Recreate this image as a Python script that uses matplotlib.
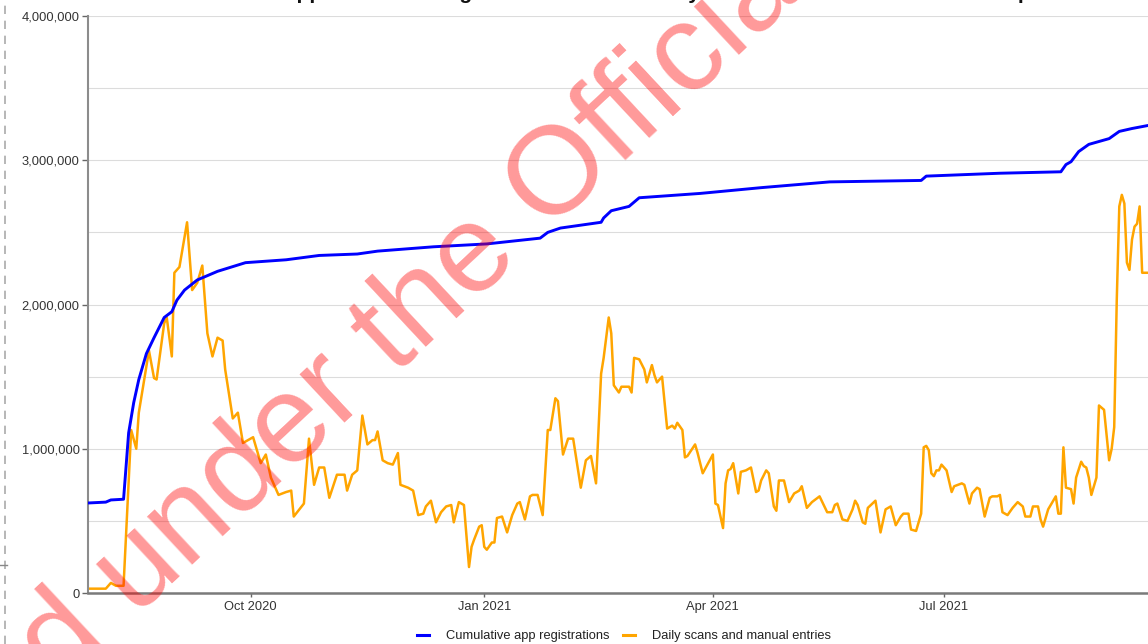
import numpy as np
import matplotlib
matplotlib.use("Agg")
import matplotlib.pyplot as plt
import matplotlib.dates as mdates
from matplotlib.lines import Line2D

plt.rcParams['font.family'] = ['Liberation Sans', 'DejaVu Sans']

# ---------------- data ----------------
start_date = np.datetime64('2020-07-29')

# Cumulative app registrations (days since start, value in millions)
reg_days = [0, 7, 9, 14, 16, 18, 20, 23, 26, 30, 33, 35, 38, 43, 51, 62, 78, 91, 106,
            114, 136, 157, 178, 181, 186, 202, 203, 206, 213, 217, 241, 265, 292, 328,
            330, 359, 383, 385, 387, 390, 394, 398, 402, 406, 411, 417]
reg_vals = [0.624, 0.63, 0.645, 0.65, 1.11, 1.32, 1.48, 1.66, 1.77, 1.91, 1.95, 2.03,
            2.10, 2.17, 2.23, 2.29, 2.31, 2.34, 2.35, 2.37, 2.40, 2.42, 2.46, 2.50,
            2.53, 2.57, 2.60, 2.65, 2.68, 2.74, 2.77, 2.81, 2.85, 2.86, 2.89, 2.91,
            2.92, 2.97, 2.99, 3.06, 3.11, 3.13, 3.15, 3.20, 3.22, 3.24]

# Daily scans and manual entries (days since start, value in millions)
scan_days = [0, 7, 9, 11, 14, 17, 19, 20, 24, 26, 27, 30, 31, 33, 34, 36, 39, 41, 43,
             45, 47, 49, 51, 53, 54, 57, 59, 61, 65, 68, 70, 72, 75, 78, 80, 81, 85,
             87, 89, 91, 93, 95, 98, 101, 102, 104, 106, 108, 110, 112, 113, 114, 116,
             118, 120, 122, 123, 126, 128, 130, 132, 133, 135, 137, 139, 141, 143, 144,
             146, 148, 150, 151, 152, 154, 155, 156, 157, 159, 160, 161, 163, 165, 167,
             169, 170, 172, 174, 175, 177, 179, 181, 182, 184, 185, 187, 189, 191, 194,
             196, 198, 200, 202, 203, 205, 206, 207, 209, 210, 213, 214, 215, 217, 219,
             220, 222, 223, 224, 226, 228, 230, 231, 232, 234, 235, 236, 239, 240, 242,
             246, 247, 248, 250, 251, 252, 253, 254, 256, 257, 259, 261, 263, 264, 265,
             267, 268, 270, 271, 272, 274, 276, 278, 280, 281, 283, 285, 288, 291, 293,
             294, 295, 297, 299, 301, 302, 303, 305, 306, 307, 310, 312, 314, 316, 318,
             320, 321, 323, 324, 326, 328, 329, 330, 331, 332, 333, 334, 335, 336, 338,
             340, 341, 344, 345, 347, 348, 350, 351, 353, 355, 356, 358, 359, 360, 362,
             364, 366, 368, 369, 371, 372, 374, 375, 376, 378, 380, 381, 382, 383, 384,
             385, 387, 388, 389, 391, 392, 393, 394, 395, 397, 398, 400, 402, 403, 404,
             405, 406, 407, 408, 409, 410, 411, 412, 413, 414, 415, 417]
scan_vals = [0.03, 0.03, 0.07, 0.05, 0.05, 1.13, 1.00, 1.25, 1.68, 1.49, 1.48, 1.87,
             1.91, 1.64, 2.22, 2.26, 2.57, 2.10, 2.15, 2.27, 1.80, 1.64, 1.77, 1.75,
             1.55, 1.21, 1.25, 1.04, 1.08, 0.90, 0.96, 0.80, 0.68, 0.70, 0.71, 0.53,
             0.62, 1.07, 0.75, 0.87, 0.87, 0.66, 0.82, 0.82, 0.71, 0.82, 0.85, 1.23,
             1.03, 1.06, 1.06, 1.12, 0.92, 0.90, 0.89, 0.97, 0.75, 0.73, 0.71, 0.54,
             0.55, 0.60, 0.64, 0.49, 0.56, 0.60, 0.61, 0.49, 0.63, 0.61, 0.18, 0.32,
             0.37, 0.46, 0.47, 0.32, 0.30, 0.35, 0.35, 0.52, 0.53, 0.42, 0.54, 0.62,
             0.63, 0.51, 0.67, 0.68, 0.68, 0.54, 1.13, 1.13, 1.35, 1.33, 0.96, 1.07,
             1.07, 0.73, 0.92, 0.95, 0.76, 1.52, 1.63, 1.91, 1.80, 1.44, 1.39, 1.43,
             1.43, 1.39, 1.63, 1.62, 1.55, 1.46, 1.58, 1.51, 1.46, 1.50, 1.14, 1.16,
             1.14, 1.18, 1.13, 0.94, 0.95, 1.03, 0.97, 0.83, 0.96, 0.62, 0.61, 0.45,
             0.76, 0.85, 0.86, 0.90, 0.69, 0.84, 0.85, 0.87, 0.70, 0.71, 0.78, 0.85,
             0.83, 0.60, 0.57, 0.78, 0.78, 0.63, 0.69, 0.71, 0.74, 0.59, 0.63, 0.67,
             0.56, 0.56, 0.61, 0.62, 0.51, 0.50, 0.58, 0.64, 0.61, 0.49, 0.48, 0.59,
             0.64, 0.42, 0.58, 0.60, 0.47, 0.53, 0.55, 0.55, 0.44, 0.43, 0.55, 1.01,
             1.02, 0.99, 0.83, 0.81, 0.85, 0.85, 0.89, 0.85, 0.70, 0.74, 0.76, 0.75,
             0.62, 0.69, 0.73, 0.72, 0.53, 0.66, 0.67, 0.67, 0.68, 0.56, 0.54, 0.59,
             0.63, 0.60, 0.53, 0.53, 0.60, 0.60, 0.51, 0.46, 0.58, 0.64, 0.67, 0.55,
             0.55, 1.01, 0.73, 0.72, 0.62, 0.80, 0.91, 0.88, 0.87, 0.80, 0.68, 0.80,
             1.30, 1.27, 0.92, 1.00, 1.15, 2.03, 2.68, 2.76, 2.70, 2.29, 2.24, 2.45,
             2.54, 2.56, 2.68, 2.22, 2.22]

series_labels = ["Cumulative app registrations", "Daily scans and manual entries"]
series_colors = ["#0000FF", "#FFA500"]
tick_dates = ['2020-10-01', '2021-01-01', '2021-04-01', '2021-07-01']
y_ticks = [0, 1000000, 2000000, 3000000, 4000000]
title = "NZ COVID Tracer app users & all registrations and the daily scans and manual entries to Sep 2021"
watermark = "Released under the Official Information Act"

# ---------------- figure ----------------
W, H = 1148, 644
fig = plt.figure(figsize=(W / 100, H / 100), dpi=100)
ax = fig.add_axes([88 / W, 1 - 593 / H, 1 - 88 / W, (593 - 16) / H])

reg_dates = start_date + np.array(reg_days).astype('timedelta64[D]')
scan_dates = start_date + np.array(scan_days).astype('timedelta64[D]')

ax.plot(reg_dates.astype('datetime64[D]').astype(object), np.array(reg_vals) * 1e6,
        color=series_colors[0], lw=2.1, label=series_labels[0], zorder=3,
        solid_joinstyle='round')
ax.plot(scan_dates.astype('datetime64[D]').astype(object), np.array(scan_vals) * 1e6,
        color=series_colors[1], lw=1.8, label=series_labels[1], zorder=2,
        solid_joinstyle='round')

x0 = mdates.date2num(start_date.astype(object))
ax.set_xlim(x0, x0 + 417.3)
ax.set_ylim(0, 4000000)

ax.set_yticks(y_ticks)
ax.set_yticklabels([f"{v:,}" for v in y_ticks])
ax.set_yticks(np.arange(0, 4000001, 500000), minor=True)
ax.grid(True, which='both', axis='y', color='#dcdcdc', lw=0.8)
ax.set_axisbelow(True)

ax.set_xticks([mdates.date2num(np.datetime64(d).astype(object)) for d in tick_dates])
ax.xaxis.set_major_formatter(mdates.DateFormatter('%b %Y'))

for s in ['top', 'right']:
    ax.spines[s].set_visible(False)
ax.spines['left'].set_color('#8c8c8c')
ax.spines['left'].set_linewidth(1.5)
ax.spines['bottom'].set_color('#7a7a7a')
ax.spines['bottom'].set_linewidth(1.8)
ax.tick_params(axis='y', which='major', length=4, width=1, color='#666666',
               labelsize=9.3, labelcolor='#333333', pad=2)
ax.tick_params(axis='y', which='minor', length=0)
ax.tick_params(axis='x', length=3, width=1, color='#666666', labelsize=9.3,
               labelcolor='#333333', pad=3)

# legend
handles = [Line2D([], [], color=series_colors[0], lw=2.2),
           Line2D([], [], color=series_colors[1], lw=2.2)]
fig.legend(handles, series_labels, loc='center', bbox_to_anchor=(624 / W, 1 - 636 / H),
           ncol=2, frameon=False, fontsize=9.3, handlelength=0.9, handletextpad=1.3,
           columnspacing=1.1, labelcolor='#222222')

# partially visible title at the very top
fig.text(597 / W, 1.0 + 1 / H, title, ha='center', va='baseline', fontsize=15,
         fontweight='bold', color='#111111')

# dashed guide line at the left edge
fig.add_artist(Line2D([5 / W, 5 / W], [0, 1], transform=fig.transFigure,
                      color='#aaaaaa', lw=1.2, linestyle=(0, (5, 4))))
fig.add_artist(Line2D([0, 7 / W], [1 - 565 / H, 1 - 565 / H], transform=fig.transFigure,
                      color='#888888', lw=1.0))

# watermark
fig.text(592 / W, 1 - 192 / H, watermark, rotation=43, ha='center', va='baseline',
         fontsize=90, color='red', alpha=0.4, rotation_mode='anchor', zorder=10)

fig.savefig('out.png', dpi=100)
